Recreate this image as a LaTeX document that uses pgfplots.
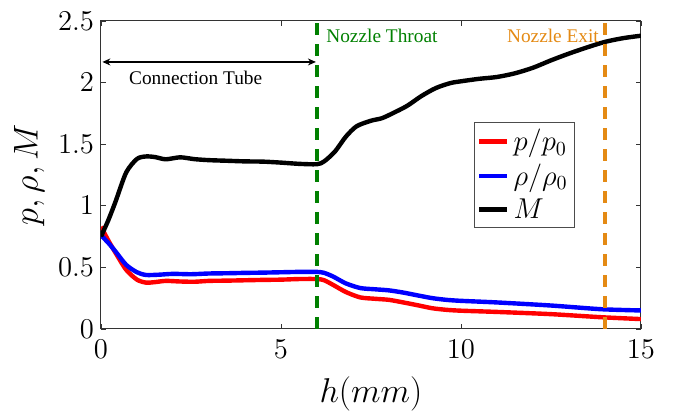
\documentclass[border=0pt]{standalone}
\usepackage{fontspec}
\setmainfont{Liberation Serif}
\usepackage{pgfplots}
\pgfplotsset{compat=1.18}
\usetikzlibrary{arrows.meta}
\definecolor{throatc}{rgb}{0,0.5,0}
\definecolor{exitc}{RGB}{228,138,20}

\begin{document}
\begin{tikzpicture}
\begin{axis}[
    scale only axis,
    width=270bp, height=154bp,
    xmin=0, xmax=15, ymin=0, ymax=2.5,
    xtick={0,5,10,15},
    ytick={0,0.5,1,1.5,2,2.5},
    tick align=inside,
    major tick length=2.5bp,
    axis line style={line width=0.5bp, black!80},
    tick style={black!80, line width=0.4bp},
    ticklabel style={font=\fontsize{14}{16}\selectfont},
    xticklabel style={yshift=-2bp},
    xlabel={$h(mm)$},
    ylabel={$p, \rho, M$},
    xlabel style={yshift=-2.5bp},
    label style={font=\fontsize{16}{18}\selectfont},
    legend style={at={(0.878,0.672)}, anchor=north east, draw=black!70,
        line width=0.5bp, font=\fontsize{14}{16}\selectfont,
        inner sep=1.5bp, row sep=1bp},
    legend cell align=left,
    legend image code/.code={\draw[#1] (0bp,0bp) -- (14bp,0bp);},
]
\addplot[red, line width=2.2bp, smooth, tension=0.45] coordinates {
(0,0.83) (0.2,0.72) (0.4,0.62) (0.7,0.48) (1.0,0.40) (1.25,0.376) (1.5,0.38)
(1.8,0.39) (2.2,0.385) (2.6,0.383) (3.0,0.39) (3.5,0.392) (4.0,0.395)
(4.5,0.398) (5.0,0.40) (5.5,0.405) (6.0,0.405) (6.2,0.395) (6.45,0.357)
(6.8,0.30) (7.2,0.256) (7.6,0.245) (8.0,0.236) (8.4,0.215) (8.8,0.192)
(9.2,0.168) (9.6,0.155) (10.0,0.148) (11,0.138) (12.5,0.12) (13.9,0.095) (15,0.08)};
\addlegendentry{$p/p_0$}
\addplot[blue, line width=2.2bp, smooth, tension=0.45] coordinates {
(0,0.76) (0.2,0.70) (0.4,0.63) (0.7,0.52) (1.0,0.46) (1.25,0.438) (1.6,0.44)
(2.0,0.447) (2.5,0.444) (3.0,0.45) (3.5,0.452) (4.0,0.455) (4.5,0.457)
(5.0,0.46) (5.5,0.463) (6.0,0.463) (6.2,0.455) (6.45,0.425) (6.8,0.37)
(7.2,0.332) (7.6,0.322) (8.0,0.313) (8.4,0.295) (8.8,0.272) (9.2,0.25)
(9.6,0.236) (10.0,0.228) (11,0.215) (12.5,0.19) (13.9,0.16) (15,0.15)};
\addlegendentry{$\rho/\rho_0$}
\addplot[black, line width=2.2bp, smooth, tension=0.45] coordinates {
(0,0.75) (0.2,0.88) (0.4,1.03) (0.7,1.27) (1.0,1.38) (1.25,1.40) (1.5,1.395)
(1.8,1.377) (2.2,1.393) (2.6,1.378) (3.0,1.37) (3.5,1.365) (4.0,1.36)
(4.5,1.358) (5.0,1.35) (5.5,1.34) (6.0,1.337) (6.2,1.36) (6.5,1.44)
(6.8,1.56) (7.1,1.645) (7.5,1.69) (7.8,1.71) (8.1,1.75) (8.5,1.81)
(8.9,1.89) (9.3,1.955) (9.7,1.995) (10.0,2.01) (10.5,2.03) (11.0,2.045)
(11.5,2.075) (12.0,2.12) (12.5,2.18) (13.0,2.235) (13.5,2.285) (14.0,2.33)
(14.5,2.36) (15,2.38)};
\addlegendentry{$M$}

% throat and exit markers
\addplot[throatc, line width=1.8bp, dash pattern=on 6bp off 4.5bp, forget plot]
    coordinates {(6,0) (6,2.5)};
\addplot[exitc, line width=1.8bp, dash pattern=on 6bp off 4.5bp, forget plot]
    coordinates {(14,0) (14,2.5)};

\draw[{Stealth[length=4bp,width=3.5bp]}-{Stealth[length=4bp,width=3.5bp]}, line width=0.6bp]
    (axis cs:0.04,2.167) -- (axis cs:5.97,2.167);
\node[font=\fontsize{9.7}{11}\selectfont, anchor=base, inner sep=0pt]
    at (axis cs:2.63,1.98) {Connection Tube};
\node[font=\fontsize{9.7}{11}\selectfont, anchor=base west, inner sep=0pt, text=throatc]
    at (axis cs:6.25,2.324) {Nozzle Throat};
\node[font=\fontsize{9.7}{11}\selectfont, anchor=base east, inner sep=0pt, text=exitc]
    at (axis cs:13.84,2.324) {Nozzle Exit};

\coordinate (bbsw) at (rel axis cs:-0.187,-0.2825);
\coordinate (bbne) at (rel axis cs:1.063,1.068);
\end{axis}
\pgfresetboundingbox
\path[use as bounding box] (bbsw) rectangle (bbne);
\end{tikzpicture}
\end{document}
